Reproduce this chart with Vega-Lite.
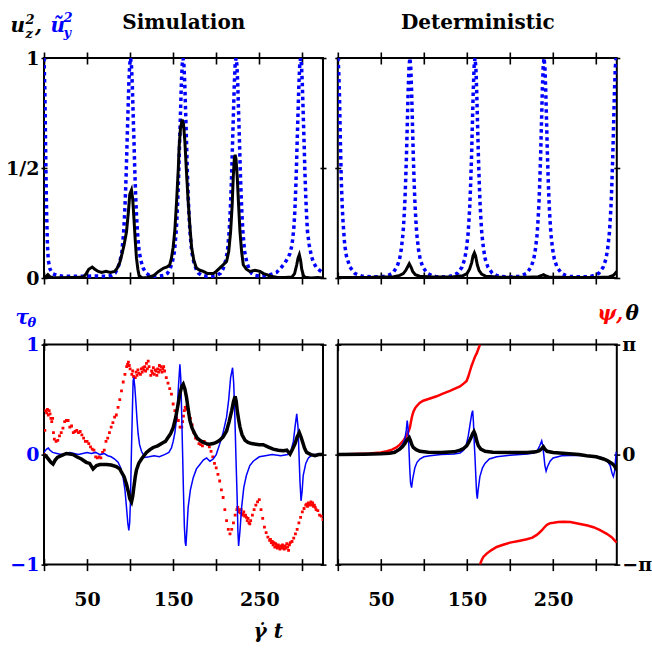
{
"$schema": "https://vega.github.io/schema/vega-lite/v6.json",
"padding": {"left": 4, "top": 10, "right": 5, "bottom": 5},
"config": {
 "view": {"stroke": "#000", "strokeWidth": 2},
 "axis": {"domain": false, "grid": false, "labels": false, "tickColor": "#000", "tickWidth": 1.6, "labelFont": "DejaVu Serif", "labelFontWeight": "bold", "labelFontSize": 19, "labelColor": "#000", "labelFlush": false, "labelOverlap": false, "titleFont": "DejaVu Serif", "titleFontWeight": "bold", "titleFontStyle": "italic", "titleFontSize": 20, "titleColor": "#000", "titleAngle": 0, "titleAlign": "left", "titleBaseline": "alphabetic", "titlePadding": 0},
 "axisX": {"offset": -6, "tickSize": 12, "values": [50,100,150,200,250,300], "labelPadding": 20, "labelBaseline": "top", "labelAlign": "center", "labelExpr": "datum.value % 100 == 50 ? datum.label : ''"},
 "axisY": {"offset": -3, "tickSize": 6, "labelPadding": 2}
},
"datasets": {
 "simUy": [{"t":0,"v":1},{"t":1,"v":0.85},{"t":2,"v":0.55},{"t":3,"v":0.3},{"t":4,"v":0.15},{"t":5,"v":0.08},{"t":7,"v":0.04},{"t":10,"v":0.02},{"t":15,"v":0.012},{"t":22,"v":0.008},{"t":30,"v":0.008},{"t":45,"v":0.008},{"t":60,"v":0.009},
  {"t":72.5,"v":0.008},{"t":78.5,"v":0.012},{"t":82.5,"v":0.022},{"t":85.5,"v":0.042},{"t":88,"v":0.072},{"t":90.5,"v":0.12},{"t":92.5,"v":0.21},{"t":93.5,"v":0.28},{"t":94.5,"v":0.37},{"t":95.5,"v":0.48},{"t":96.5,"v":0.62},{"t":97.5,"v":0.75},{"t":98.5,"v":0.88},{"t":99.5,"v":0.97},{"t":100.5,"v":1},{"t":101.5,"v":0.97},{"t":102.5,"v":0.88},{"t":103.5,"v":0.75},{"t":104.5,"v":0.62},{"t":105.5,"v":0.48},{"t":106.5,"v":0.37},{"t":107.5,"v":0.28},{"t":108.5,"v":0.21},{"t":110.5,"v":0.12},{"t":113,"v":0.072},{"t":115.5,"v":0.042},{"t":118.5,"v":0.022},{"t":122.5,"v":0.012},{"t":128.5,"v":0.008},
  {"t":133.5,"v":0.008},{"t":139.5,"v":0.012},{"t":143.5,"v":0.022},{"t":146.5,"v":0.042},{"t":149,"v":0.072},{"t":151.5,"v":0.12},{"t":153.5,"v":0.21},{"t":154.5,"v":0.28},{"t":155.5,"v":0.37},{"t":156.5,"v":0.48},{"t":157.5,"v":0.62},{"t":158.5,"v":0.75},{"t":159.5,"v":0.88},{"t":160.5,"v":0.97},{"t":161.5,"v":1},{"t":162.5,"v":0.97},{"t":163.5,"v":0.88},{"t":164.5,"v":0.75},{"t":165.5,"v":0.62},{"t":166.5,"v":0.48},{"t":167.5,"v":0.37},{"t":168.5,"v":0.28},{"t":169.5,"v":0.21},{"t":171.5,"v":0.12},{"t":174,"v":0.072},{"t":176.5,"v":0.042},{"t":179.5,"v":0.022},{"t":183.5,"v":0.012},{"t":189.5,"v":0.008},
  {"t":195,"v":0.008},{"t":201,"v":0.012},{"t":205,"v":0.022},{"t":208,"v":0.042},{"t":210.5,"v":0.072},{"t":213,"v":0.12},{"t":215,"v":0.21},{"t":216,"v":0.28},{"t":217,"v":0.37},{"t":218,"v":0.48},{"t":219,"v":0.62},{"t":220,"v":0.75},{"t":221,"v":0.88},{"t":222,"v":0.97},{"t":223,"v":1},{"t":224,"v":0.97},{"t":225,"v":0.88},{"t":226,"v":0.75},{"t":227,"v":0.62},{"t":228,"v":0.48},{"t":229,"v":0.37},{"t":230,"v":0.28},{"t":231,"v":0.21},{"t":233,"v":0.12},{"t":235.5,"v":0.072},{"t":238,"v":0.042},{"t":241,"v":0.022},{"t":245,"v":0.012},{"t":251,"v":0.008},{"t":260,"v":0.012},
  {"t":270,"v":0.025},{"t":276,"v":0.05},{"t":280,"v":0.07},{"t":283,"v":0.09},{"t":285.5,"v":0.11},{"t":288,"v":0.15},{"t":290,"v":0.22},{"t":291,"v":0.28},{"t":292,"v":0.37},{"t":293,"v":0.48},{"t":294,"v":0.62},{"t":295,"v":0.75},{"t":296,"v":0.88},{"t":297,"v":0.97},{"t":298,"v":1},{"t":299,"v":0.97},{"t":300,"v":0.88},{"t":301,"v":0.75},{"t":302,"v":0.62},{"t":303,"v":0.48},{"t":304,"v":0.37},{"t":305,"v":0.28},{"t":306,"v":0.21},{"t":308,"v":0.15},{"t":310.5,"v":0.1},{"t":313,"v":0.07},{"t":316,"v":0.05},{"t":320,"v":0.035},{"t":324,"v":0.025}],
 "simUz": [{"t":0,"v":0},{"t":2,"v":0.005},{"t":4.5,"v":0.015},{"t":7,"v":0.005},{"t":10,"v":0.002},{"t":20,"v":0.001},{"t":30,"v":0.002},{"t":40,"v":0.003},{"t":46,"v":0.005},{"t":49,"v":0.02},{"t":52,"v":0.04},{"t":56,"v":0.05},{"t":59,"v":0.04},{"t":63,"v":0.03},{"t":67,"v":0.025},{"t":72,"v":0.03},{"t":77,"v":0.025},{"t":82,"v":0.03},{"t":85,"v":0.045},{"t":88,"v":0.07},{"t":90,"v":0.1},{"t":93,"v":0.15},{"t":95.8,"v":0.21},{"t":98,"v":0.3},{"t":99.6,"v":0.38},{"t":101.6,"v":0.4},{"t":103,"v":0.36},{"t":104.3,"v":0.28},{"t":106,"v":0.17},{"t":107.4,"v":0.09},{"t":109,"v":0.04},{"t":110.5,"v":0.01},{"t":114,"v":0},{"t":120,"v":0.002},{"t":127,"v":0.01},{"t":133,"v":0.03},{"t":139,"v":0.045},{"t":143,"v":0.05},{"t":146,"v":0.06},{"t":148,"v":0.09},{"t":150,"v":0.14},{"t":152,"v":0.22},{"t":154,"v":0.35},{"t":156,"v":0.5},{"t":157,"v":0.6},{"t":158.5,"v":0.68},{"t":160.5,"v":0.72},{"t":162,"v":0.7},{"t":163.6,"v":0.62},{"t":165.5,"v":0.48},{"t":167.4,"v":0.35},{"t":169.5,"v":0.23},{"t":171.4,"v":0.14},{"t":174,"v":0.08},{"t":177,"v":0.045},{"t":181,"v":0.035},{"t":185,"v":0.03},{"t":190,"v":0.02},{"t":196.5,"v":0.02},{"t":200,"v":0.03},{"t":204,"v":0.045},{"t":208,"v":0.06},{"t":212,"v":0.075},{"t":214.5,"v":0.12},{"t":216.7,"v":0.21},{"t":218.5,"v":0.33},{"t":219.8,"v":0.46},{"t":221,"v":0.54},{"t":222,"v":0.56},{"t":223,"v":0.54},{"t":224.4,"v":0.46},{"t":226,"v":0.33},{"t":227.6,"v":0.21},{"t":229.5,"v":0.12},{"t":231.4,"v":0.06},{"t":235,"v":0.04},{"t":239,"v":0.03},{"t":245,"v":0.035},{"t":250.8,"v":0.03},{"t":255,"v":0.02},{"t":258.6,"v":0.015},{"t":263,"v":0.008},{"t":270,"v":0.003},{"t":280,"v":0.002},{"t":288,"v":0.005},{"t":291,"v":0.02},{"t":293.5,"v":0.06},{"t":295,"v":0.09},{"t":296.5,"v":0.106},{"t":298,"v":0.08},{"t":299.3,"v":0.04},{"t":301,"v":0.015},{"t":303,"v":0.003},{"t":310,"v":0},{"t":318,"v":0.002},{"t":324,"v":0}],
 "detUy": [{"t":0,"v":1},{"t":1,"v":0.95},{"t":2,"v":0.82},{"t":3,"v":0.62},{"t":4,"v":0.45},{"t":5,"v":0.34},{"t":6,"v":0.26},{"t":8,"v":0.15},{"t":10,"v":0.1},{"t":14,"v":0.05},{"t":20,"v":0.02},{"t":28,"v":0.008},{"t":40,"v":0.005},
  {"t":53.7,"v":0.007},{"t":58.7,"v":0.012},{"t":63.7,"v":0.022},{"t":68.7,"v":0.05},{"t":71.7,"v":0.085},{"t":73.7,"v":0.13},{"t":75.7,"v":0.2},{"t":76.7,"v":0.26},{"t":77.7,"v":0.33},{"t":78.7,"v":0.43},{"t":79.7,"v":0.55},{"t":80.7,"v":0.7},{"t":81.7,"v":0.85},{"t":82.7,"v":0.96},{"t":83.7,"v":1},{"t":84.7,"v":0.96},{"t":85.7,"v":0.85},{"t":86.7,"v":0.7},{"t":87.7,"v":0.55},{"t":88.7,"v":0.43},{"t":89.7,"v":0.33},{"t":90.7,"v":0.26},{"t":91.7,"v":0.2},{"t":93.7,"v":0.13},{"t":95.7,"v":0.085},{"t":98.7,"v":0.05},{"t":103.7,"v":0.022},{"t":108.7,"v":0.012},{"t":113.7,"v":0.007},{"t":121.5,"v":0.005},
  {"t":129.3,"v":0.007},{"t":134.3,"v":0.012},{"t":139.3,"v":0.022},{"t":144.3,"v":0.05},{"t":147.3,"v":0.085},{"t":149.3,"v":0.13},{"t":151.3,"v":0.2},{"t":152.3,"v":0.26},{"t":153.3,"v":0.33},{"t":154.3,"v":0.43},{"t":155.3,"v":0.55},{"t":156.3,"v":0.7},{"t":157.3,"v":0.85},{"t":158.3,"v":0.96},{"t":159.3,"v":1},{"t":160.3,"v":0.96},{"t":161.3,"v":0.85},{"t":162.3,"v":0.7},{"t":163.3,"v":0.55},{"t":164.3,"v":0.43},{"t":165.3,"v":0.33},{"t":166.3,"v":0.26},{"t":167.3,"v":0.2},{"t":169.3,"v":0.13},{"t":171.3,"v":0.085},{"t":174.3,"v":0.05},{"t":179.3,"v":0.022},{"t":184.3,"v":0.012},{"t":189.3,"v":0.007},{"t":199.5,"v":0.005},
  {"t":209.5,"v":0.007},{"t":214.5,"v":0.012},{"t":219.5,"v":0.022},{"t":224.5,"v":0.05},{"t":227.5,"v":0.085},{"t":229.5,"v":0.13},{"t":231.5,"v":0.2},{"t":232.5,"v":0.26},{"t":233.5,"v":0.33},{"t":234.5,"v":0.43},{"t":235.5,"v":0.55},{"t":236.5,"v":0.7},{"t":237.5,"v":0.85},{"t":238.5,"v":0.96},{"t":239.5,"v":1},{"t":240.5,"v":0.96},{"t":241.5,"v":0.85},{"t":242.5,"v":0.7},{"t":243.5,"v":0.55},{"t":244.5,"v":0.43},{"t":245.5,"v":0.33},{"t":246.5,"v":0.26},{"t":247.5,"v":0.2},{"t":249.5,"v":0.13},{"t":251.5,"v":0.085},{"t":254.5,"v":0.05},{"t":259.5,"v":0.022},{"t":264.5,"v":0.012},{"t":269.5,"v":0.007},{"t":283.3,"v":0.005},
  {"t":293.3,"v":0.007},{"t":298.3,"v":0.012},{"t":303.3,"v":0.022},{"t":308.3,"v":0.05},{"t":311.3,"v":0.085},{"t":313.3,"v":0.13},{"t":315.3,"v":0.2},{"t":316.3,"v":0.26},{"t":317.3,"v":0.33},{"t":318.3,"v":0.43},{"t":319.3,"v":0.55},{"t":320.3,"v":0.7},{"t":321.3,"v":0.85},{"t":322.3,"v":0.96},{"t":323.3,"v":1},{"t":324,"v":0.99}],
 "detUz": [{"t":0,"v":0.002},{"t":40,"v":0.003},{"t":65,"v":0.006},{"t":72,"v":0.012},{"t":76,"v":0.02},{"t":79,"v":0.035},{"t":81,"v":0.05},{"t":83,"v":0.065},{"t":85,"v":0.05},{"t":87,"v":0.03},{"t":90,"v":0.015},{"t":95,"v":0.008},{"t":110,"v":0.004},{"t":130,"v":0.004},{"t":145,"v":0.01},{"t":150,"v":0.02},{"t":153,"v":0.04},{"t":155.5,"v":0.07},{"t":157,"v":0.1},{"t":158.6,"v":0.114},{"t":160,"v":0.1},{"t":162,"v":0.06},{"t":164,"v":0.035},{"t":167,"v":0.018},{"t":172,"v":0.008},{"t":185,"v":0.004},{"t":220,"v":0.003},{"t":233,"v":0.006},{"t":237,"v":0.012},{"t":239,"v":0.015},{"t":241,"v":0.01},{"t":245,"v":0.005},{"t":270,"v":0.002},{"t":300,"v":0.002},{"t":315,"v":0.005},{"t":320,"v":0.012},{"t":322,"v":0.02},{"t":324,"v":0.03}],
 "simTau": [{"t":0,"v":0.02},{"t":3,"v":0.05},{"t":5,"v":0.06},{"t":7,"v":0.04},{"t":10,"v":0.02},{"t":15,"v":0.01},{"t":20,"v":0},{"t":25,"v":0.01},{"t":30,"v":0.02},{"t":35,"v":0.01},{"t":40,"v":0},{"t":45,"v":0.01},{"t":50,"v":0.02},{"t":55,"v":0.01},{"t":60,"v":0.02},{"t":65,"v":0},{"t":70,"v":0.01},{"t":74,"v":-0.01},{"t":78,"v":-0.02},{"t":82,"v":-0.04},{"t":86,"v":-0.07},{"t":89,"v":-0.12},{"t":91.9,"v":-0.21},{"t":94,"v":-0.32},{"t":95.8,"v":-0.48},{"t":97.3,"v":-0.62},{"t":98.5,"v":-0.69},{"t":99.5,"v":-0.62},{"t":100.4,"v":-0.42},{"t":101.2,"v":-0.1},{"t":102,"v":0.19},{"t":102.8,"v":0.45},{"t":103.5,"v":0.67},{"t":104.3,"v":0.7},{"t":105.4,"v":0.62},{"t":106.6,"v":0.49},{"t":108,"v":0.32},{"t":109.3,"v":0.19},{"t":111,"v":0.09},{"t":113.2,"v":0.03},{"t":117,"v":-0.026},{"t":122,"v":-0.02},{"t":128,"v":-0.01},{"t":134,"v":-0.02},{"t":140,"v":0},{"t":145,"v":0.02},{"t":148,"v":0.06},{"t":150,"v":0.12},{"t":152,"v":0.2},{"t":154,"v":0.33},{"t":156,"v":0.6},{"t":157.8,"v":0.82},{"t":158.8,"v":0.7},{"t":159.8,"v":0.4},{"t":160.9,"v":0.03},{"t":162,"v":-0.35},{"t":163,"v":-0.65},{"t":164,"v":-0.8},{"t":164.8,"v":-0.83},{"t":165.8,"v":-0.7},{"t":167.4,"v":-0.48},{"t":170,"v":-0.32},{"t":173.3,"v":-0.21},{"t":177,"v":-0.13},{"t":181,"v":-0.09},{"t":185,"v":-0.05},{"t":188.8,"v":-0.03},{"t":192.7,"v":-0.06},{"t":196.5,"v":-0.04},{"t":200,"v":0},{"t":204,"v":0.095},{"t":208,"v":0.2},{"t":212,"v":0.34},{"t":214.5,"v":0.5},{"t":216.7,"v":0.7},{"t":219,"v":0.79},{"t":220.3,"v":0.65},{"t":221.7,"v":0.33},{"t":223,"v":-0.05},{"t":224.4,"v":-0.42},{"t":225.2,"v":-0.7},{"t":226,"v":-0.83},{"t":227.5,"v":-0.7},{"t":229.5,"v":-0.48},{"t":232,"v":-0.3},{"t":235,"v":-0.19},{"t":239,"v":-0.1},{"t":243,"v":-0.06},{"t":250,"v":-0.02},{"t":257,"v":-0.01},{"t":265,"v":0},{"t":275,"v":-0.01},{"t":283,"v":0},{"t":287,"v":0.04},{"t":289.6,"v":0.12},{"t":291.5,"v":0.25},{"t":293.5,"v":0.37},{"t":295,"v":0.25},{"t":296,"v":0.03},{"t":297.3,"v":-0.25},{"t":298.5,"v":-0.42},{"t":299.8,"v":-0.33},{"t":301,"v":-0.19},{"t":304,"v":-0.08},{"t":307,"v":-0.03},{"t":312,"v":0},{"t":318,"v":0},{"t":324,"v":0}],
 "simTheta": [{"t":0,"v":0},{"t":3,"v":-0.02},{"t":6,"v":-0.05},{"t":8,"v":-0.07},{"t":10.5,"v":-0.086},{"t":13,"v":-0.05},{"t":15.6,"v":-0.025},{"t":20,"v":-0.01},{"t":26,"v":0.01},{"t":30,"v":0.005},{"t":33.7,"v":0},{"t":38,"v":-0.02},{"t":43.4,"v":-0.04},{"t":49,"v":-0.07},{"t":53,"v":-0.08},{"t":57,"v":-0.13},{"t":61,"v":-0.1},{"t":65,"v":-0.09},{"t":72.5,"v":-0.09},{"t":78,"v":-0.095},{"t":84,"v":-0.11},{"t":88,"v":-0.13},{"t":90,"v":-0.16},{"t":93,"v":-0.2},{"t":95.8,"v":-0.27},{"t":98,"v":-0.34},{"t":99.6,"v":-0.4},{"t":101.6,"v":-0.43},{"t":103,"v":-0.38},{"t":104.3,"v":-0.3},{"t":106,"v":-0.2},{"t":107.4,"v":-0.14},{"t":110,"v":-0.08},{"t":113.2,"v":-0.04},{"t":116,"v":-0.01},{"t":119,"v":0.02},{"t":123,"v":0.045},{"t":126.8,"v":0.065},{"t":132,"v":0.08},{"t":138.5,"v":0.11},{"t":141,"v":0.12},{"t":144,"v":0.155},{"t":147,"v":0.19},{"t":150,"v":0.245},{"t":153,"v":0.34},{"t":155.8,"v":0.46},{"t":158,"v":0.56},{"t":160,"v":0.62},{"t":161.7,"v":0.64},{"t":163.5,"v":0.6},{"t":165.5,"v":0.52},{"t":167.5,"v":0.41},{"t":169.4,"v":0.31},{"t":172,"v":0.24},{"t":175,"v":0.19},{"t":178,"v":0.15},{"t":181,"v":0.13},{"t":185,"v":0.11},{"t":188.8,"v":0.1},{"t":192,"v":0.095},{"t":196.5,"v":0.1},{"t":200,"v":0.11},{"t":204,"v":0.13},{"t":208,"v":0.16},{"t":212,"v":0.215},{"t":215,"v":0.3},{"t":218,"v":0.4},{"t":220,"v":0.48},{"t":222,"v":0.53},{"t":223.3,"v":0.48},{"t":224.4,"v":0.4},{"t":226,"v":0.32},{"t":227.6,"v":0.25},{"t":230,"v":0.18},{"t":233.5,"v":0.13},{"t":237,"v":0.11},{"t":241,"v":0.1},{"t":246,"v":0.095},{"t":250,"v":0.09},{"t":254.6,"v":0.09},{"t":260,"v":0.07},{"t":266.2,"v":0.05},{"t":272,"v":0.04},{"t":278,"v":0.035},{"t":282,"v":0.04},{"t":285.7,"v":0.005},{"t":288,"v":0.04},{"t":291.6,"v":0.1},{"t":294,"v":0.16},{"t":296.5,"v":0.2},{"t":298.5,"v":0.16},{"t":300.5,"v":0.11},{"t":302.5,"v":0.06},{"t":305,"v":0.02},{"t":310,"v":0},{"t":314.8,"v":-0.01},{"t":319,"v":0},{"t":324,"v":0}],
 "simPsi": [{"t":0,"v":0},{"t":1,"v":0.22},{"t":2,"v":0.4},{"t":3,"v":0.38},{"t":4,"v":0.41},{"t":5,"v":0.36},{"t":6,"v":0.4},{"t":7,"v":0.37},{"t":8,"v":0.33},{"t":9,"v":0.3},{"t":10,"v":0.33},{"t":11,"v":0.2},{"t":12,"v":0.14},{"t":14,"v":0.12},{"t":16,"v":0.13},{"t":18,"v":0.17},{"t":20,"v":0.2},{"t":22,"v":0.24},{"t":24,"v":0.3},{"t":26,"v":0.31},{"t":28,"v":0.31},{"t":30,"v":0.25},{"t":32,"v":0.26},{"t":34,"v":0.2},{"t":36,"v":0.21},{"t":38,"v":0.22},{"t":40,"v":0.2},{"t":42,"v":0.21},{"t":44,"v":0.18},{"t":46,"v":0.15},{"t":48,"v":0.12},{"t":50,"v":0.12},{"t":52,"v":0.1},{"t":54,"v":0.07},{"t":56,"v":0.05},{"t":58,"v":0.04},{"t":60,"v":-0.02},{"t":62,"v":-0.03},{"t":64,"v":-0.02},{"t":66,"v":-0.03},{"t":68,"v":0.02},{"t":70,"v":0.04},{"t":72,"v":0.12},{"t":74,"v":0.15},{"t":76,"v":0.2},{"t":78,"v":0.25},{"t":80,"v":0.29},{"t":82,"v":0.34},{"t":84,"v":0.36},{"t":86,"v":0.43},{"t":88,"v":0.5},{"t":90,"v":0.58},{"t":92,"v":0.66},{"t":94,"v":0.73},{"t":96,"v":0.8},{"t":97,"v":0.82},{"t":98,"v":0.84},{"t":99,"v":0.81},{"t":100,"v":0.78},{"t":102,"v":0.73},{"t":103,"v":0.76},{"t":104,"v":0.71},{"t":106,"v":0.7},{"t":107,"v":0.75},{"t":108,"v":0.72},{"t":109,"v":0.77},{"t":110,"v":0.74},{"t":112,"v":0.73},{"t":113,"v":0.78},{"t":114,"v":0.75},{"t":115,"v":0.79},{"t":116,"v":0.77},{"t":117,"v":0.8},{"t":118,"v":0.76},{"t":119,"v":0.83},{"t":120,"v":0.78},{"t":121,"v":0.85},{"t":122,"v":0.8},{"t":124,"v":0.72},{"t":125,"v":0.76},{"t":126,"v":0.74},{"t":127,"v":0.79},{"t":128,"v":0.73},{"t":129,"v":0.77},{"t":130,"v":0.76},{"t":131,"v":0.72},{"t":132,"v":0.78},{"t":133,"v":0.75},{"t":134,"v":0.81},{"t":135,"v":0.77},{"t":136,"v":0.8},{"t":137,"v":0.75},{"t":138,"v":0.78},{"t":139,"v":0.8},{"t":140,"v":0.76},{"t":142,"v":0.7},{"t":144,"v":0.65},{"t":146,"v":0.6},{"t":148,"v":0.55},{"t":150,"v":0.46},{"t":152,"v":0.4},{"t":154,"v":0.33},{"t":156,"v":0.31},{"t":158,"v":0.25},{"t":160,"v":0.25},{"t":161,"v":0.3},{"t":162,"v":0.35},{"t":163,"v":0.4},{"t":164,"v":0.43},{"t":165,"v":0.42},{"t":166,"v":0.44},{"t":167,"v":0.41},{"t":168,"v":0.38},{"t":170,"v":0.33},{"t":172,"v":0.27},{"t":174,"v":0.2},{"t":176,"v":0.15},{"t":178,"v":0.14},{"t":180,"v":0.1},{"t":182,"v":0.09},{"t":184,"v":0.08},{"t":186,"v":0.12},{"t":188,"v":0.1},{"t":190,"v":0.09},{"t":192,"v":0.07},{"t":194,"v":0.03},{"t":196,"v":-0.02},{"t":198,"v":-0.08},{"t":200,"v":-0.12},{"t":202,"v":-0.18},{"t":204,"v":-0.24},{"t":206,"v":-0.32},{"t":208,"v":-0.39},{"t":210,"v":-0.5},{"t":212,"v":-0.6},{"t":214,"v":-0.68},{"t":216,"v":-0.72},{"t":218,"v":-0.68},{"t":220,"v":-0.62},{"t":222,"v":-0.55},{"t":224,"v":-0.5},{"t":225,"v":-0.48},{"t":226,"v":-0.52},{"t":227,"v":-0.5},{"t":228,"v":-0.53},{"t":229,"v":-0.5},{"t":230,"v":-0.55},{"t":231,"v":-0.54},{"t":232,"v":-0.52},{"t":233,"v":-0.56},{"t":234,"v":-0.55},{"t":235,"v":-0.57},{"t":236,"v":-0.6},{"t":237,"v":-0.58},{"t":238,"v":-0.62},{"t":239,"v":-0.63},{"t":240,"v":-0.6},{"t":242,"v":-0.55},{"t":244,"v":-0.5},{"t":246,"v":-0.46},{"t":248,"v":-0.43},{"t":250,"v":-0.41},{"t":252,"v":-0.5},{"t":254,"v":-0.58},{"t":256,"v":-0.66},{"t":258,"v":-0.71},{"t":260,"v":-0.75},{"t":262,"v":-0.78},{"t":263,"v":-0.77},{"t":264,"v":-0.8},{"t":265,"v":-0.79},{"t":266,"v":-0.82},{"t":267,"v":-0.8},{"t":268,"v":-0.84},{"t":269,"v":-0.81},{"t":270,"v":-0.83},{"t":271,"v":-0.85},{"t":272,"v":-0.82},{"t":273,"v":-0.84},{"t":274,"v":-0.86},{"t":275,"v":-0.83},{"t":276,"v":-0.85},{"t":277,"v":-0.82},{"t":278,"v":-0.84},{"t":279,"v":-0.86},{"t":280,"v":-0.83},{"t":281,"v":-0.85},{"t":282,"v":-0.81},{"t":283,"v":-0.84},{"t":284,"v":-0.87},{"t":285,"v":-0.82},{"t":286,"v":-0.8},{"t":288,"v":-0.79},{"t":290,"v":-0.76},{"t":292,"v":-0.72},{"t":294,"v":-0.68},{"t":296,"v":-0.62},{"t":298,"v":-0.57},{"t":300,"v":-0.52},{"t":302,"v":-0.49},{"t":304,"v":-0.46},{"t":305,"v":-0.45},{"t":306,"v":-0.47},{"t":307,"v":-0.44},{"t":308,"v":-0.46},{"t":309,"v":-0.45},{"t":310,"v":-0.43},{"t":311,"v":-0.46},{"t":312,"v":-0.44},{"t":313,"v":-0.47},{"t":314,"v":-0.46},{"t":315,"v":-0.48},{"t":316,"v":-0.5},{"t":318,"v":-0.51},{"t":320,"v":-0.55},{"t":322,"v":-0.56},{"t":324,"v":-0.59}],
 "detTau": [{"t":0,"v":0},{"t":30,"v":0.002},{"t":50,"v":0.008},{"t":60,"v":0.015},{"t":66,"v":0.03},{"t":70,"v":0.045},{"t":72,"v":0.06},{"t":75,"v":0.09},{"t":77.9,"v":0.14},{"t":79.5,"v":0.22},{"t":80.6,"v":0.31},{"t":81.5,"v":0.25},{"t":82.5,"v":0.08},{"t":83.5,"v":-0.12},{"t":84.5,"v":-0.26},{"t":85.7,"v":-0.3},{"t":87,"v":-0.22},{"t":89.5,"v":-0.12},{"t":92,"v":-0.07},{"t":95.3,"v":-0.04},{"t":100,"v":-0.02},{"t":107,"v":-0.01},{"t":120,"v":0},{"t":135,"v":0.005},{"t":142,"v":0.015},{"t":146,"v":0.04},{"t":149,"v":0.08},{"t":151.5,"v":0.17},{"t":153.5,"v":0.27},{"t":155.5,"v":0.37},{"t":156.6,"v":0.4},{"t":157.5,"v":0.3},{"t":158.5,"v":0.1},{"t":159.3,"v":-0.02},{"t":160.3,"v":-0.2},{"t":161.2,"v":-0.35},{"t":162,"v":-0.4},{"t":163,"v":-0.32},{"t":165,"v":-0.2},{"t":168,"v":-0.12},{"t":170.9,"v":-0.08},{"t":176,"v":-0.04},{"t":184.5,"v":-0.02},{"t":200,"v":-0.005},{"t":220,"v":0.005},{"t":228,"v":0.015},{"t":232,"v":0.04},{"t":234.5,"v":0.08},{"t":236.8,"v":0.125},{"t":238,"v":0.08},{"t":239.2,"v":0},{"t":240.5,"v":-0.1},{"t":241.9,"v":-0.15},{"t":243.5,"v":-0.11},{"t":246.5,"v":-0.06},{"t":250,"v":-0.03},{"t":260,"v":-0.01},{"t":280,"v":-0.005},{"t":300,"v":-0.015},{"t":308,"v":-0.03},{"t":313,"v":-0.06},{"t":316.3,"v":-0.1},{"t":318.5,"v":-0.17},{"t":320,"v":-0.2},{"t":321.5,"v":-0.15},{"t":322.5,"v":-0.05},{"t":323.3,"v":0.02},{"t":324,"v":0.02}],
 "detTheta": [{"t":0,"v":0},{"t":30,"v":0.003},{"t":50,"v":0.007},{"t":60,"v":0.012},{"t":66,"v":0.02},{"t":72,"v":0.05},{"t":75,"v":0.07},{"t":77.9,"v":0.1},{"t":80,"v":0.13},{"t":81.5,"v":0.145},{"t":82.9,"v":0.155},{"t":84.3,"v":0.13},{"t":86,"v":0.09},{"t":87.6,"v":0.065},{"t":91,"v":0.045},{"t":95.3,"v":0.03},{"t":105,"v":0.022},{"t":120,"v":0.02},{"t":135,"v":0.025},{"t":142,"v":0.04},{"t":146,"v":0.055},{"t":149.6,"v":0.08},{"t":152,"v":0.11},{"t":154.5,"v":0.15},{"t":156.5,"v":0.19},{"t":158.1,"v":0.21},{"t":159.7,"v":0.18},{"t":161.5,"v":0.12},{"t":163.2,"v":0.08},{"t":166,"v":0.05},{"t":171,"v":0.03},{"t":180,"v":0.022},{"t":200,"v":0.02},{"t":220,"v":0.02},{"t":230,"v":0.025},{"t":234,"v":0.035},{"t":237,"v":0.055},{"t":238.8,"v":0.07},{"t":240.5,"v":0.05},{"t":243,"v":0.03},{"t":250,"v":0.02},{"t":265,"v":0.01},{"t":280,"v":0},{"t":289,"v":-0.01},{"t":300,"v":-0.02},{"t":308.5,"v":-0.04},{"t":313,"v":-0.055},{"t":318.3,"v":-0.08},{"t":321,"v":-0.1},{"t":323.3,"v":-0.13},{"t":324,"v":-0.14}],
 "detPsi": [{"s":1,"t":0,"v":0},{"s":1,"t":20,"v":0.005},{"s":1,"t":37,"v":0.01},{"s":1,"t":50,"v":0.02},{"s":1,"t":57,"v":0.03},{"s":1,"t":63,"v":0.045},{"s":1,"t":68,"v":0.065},{"s":1,"t":72,"v":0.09},{"s":1,"t":76,"v":0.125},{"s":1,"t":78.5,"v":0.155},{"s":1,"t":80.6,"v":0.186},{"s":1,"t":82.3,"v":0.215},{"s":1,"t":83.7,"v":0.245},{"s":1,"t":85,"v":0.3},{"s":1,"t":86,"v":0.34},{"s":1,"t":87.2,"v":0.375},{"s":1,"t":88.4,"v":0.4},{"s":1,"t":90,"v":0.425},{"s":1,"t":91.5,"v":0.44},{"s":1,"t":95,"v":0.47},{"s":1,"t":99.2,"v":0.49},{"s":1,"t":107,"v":0.51},{"s":1,"t":114.8,"v":0.53},{"s":1,"t":122,"v":0.555},{"s":1,"t":130.2,"v":0.58},{"s":1,"t":136,"v":0.6},{"s":1,"t":141.9,"v":0.62},{"s":1,"t":146,"v":0.645},{"s":1,"t":149.6,"v":0.67},{"s":1,"t":151.5,"v":0.71},{"s":1,"t":153.5,"v":0.76},{"s":1,"t":155.5,"v":0.81},{"s":1,"t":157.4,"v":0.85},{"s":1,"t":159.3,"v":0.89},{"s":1,"t":161.3,"v":0.92},{"s":1,"t":163.2,"v":0.96},{"s":1,"t":165.1,"v":1},
  {"s":2,"t":165.1,"v":-1},{"s":2,"t":167,"v":-0.96},{"s":2,"t":169,"v":-0.93},{"s":2,"t":172.9,"v":-0.9},{"s":2,"t":178,"v":-0.87},{"s":2,"t":184.5,"v":-0.84},{"s":2,"t":192,"v":-0.82},{"s":2,"t":200,"v":-0.8},{"s":2,"t":210,"v":-0.785},{"s":2,"t":219.4,"v":-0.77},{"s":2,"t":226,"v":-0.755},{"s":2,"t":231,"v":-0.73},{"s":2,"t":234,"v":-0.71},{"s":2,"t":236.8,"v":-0.69},{"s":2,"t":239.5,"v":-0.665},{"s":2,"t":242.6,"v":-0.64},{"s":2,"t":246,"v":-0.625},{"s":2,"t":250.4,"v":-0.62},{"s":2,"t":256,"v":-0.612},{"s":2,"t":262,"v":-0.61},{"s":2,"t":270,"v":-0.612},{"s":2,"t":281.4,"v":-0.63},{"s":2,"t":290,"v":-0.645},{"s":2,"t":296.9,"v":-0.66},{"s":2,"t":304,"v":-0.685},{"s":2,"t":312.4,"v":-0.72},{"s":2,"t":318,"v":-0.75},{"s":2,"t":324,"v":-0.8}]
},
"columns": 2,
"spacing": {"row": 66.6, "column": 14.8},
"bounds": "flush",
"concat": [
 {
  "width": 279, "height": 220,
  "layer": [
   {"data": {"name": "simUy"}, "mark": {"type": "line", "color": "#0000ff", "strokeWidth": 3.5, "strokeDash": [3.5, 3.5], "strokeCap": "butt", "clip": true},
    "encoding": {
     "x": {"field": "t", "type": "quantitative", "scale": {"domain": [0, 324], "nice": false}, "axis": {"orient": "bottom", "title": ["2", "y"], "titleColor": "#0000ff", "titleFontSize": 13, "titleLineHeight": 15, "titleX": 19, "titleY": -250.7}},
     "y": {"field": "v", "type": "quantitative", "scale": {"domain": [0, 1], "nice": false}, "axis": {"orient": "left", "values": [0, 0.5, 1], "format": "~g", "labels": true, "labelExpr": "datum.value == 0.5 ? '1/2' : datum.label", "title": "u\u2002,", "titleX": -37, "titleY": -26.7}}
    }},
   {"data": {"name": "simUz"}, "mark": {"type": "line", "color": "#000", "strokeWidth": 3, "clip": true},
    "encoding": {
     "x": {"field": "t", "type": "quantitative", "scale": {"domain": [0, 324], "nice": false}, "axis": {"orient": "top", "title": ["2", "z"], "titleFontSize": 13, "titleLineHeight": 14, "titleX": -19, "titleY": -40.7}},
     "y": {"field": "v", "type": "quantitative", "scale": {"domain": [0, 1], "nice": false}, "axis": {"orient": "right", "values": [0, 0.5, 1], "title": "\u0169", "titleColor": "#0000ff", "titleX": -270, "titleY": -26.7}}
    }}
  ],
  "resolve": {"axis": {"x": "independent", "y": "independent"}}
 },
 {
  "width": 279, "height": 220,
  "layer": [
   {"data": {"name": "detUy"}, "mark": {"type": "line", "color": "#0000ff", "strokeWidth": 3.5, "strokeDash": [3.5, 3.5], "strokeCap": "butt", "clip": true},
    "encoding": {
     "x": {"field": "t", "type": "quantitative", "scale": {"domain": [0, 324], "nice": false}, "axis": {"orient": "bottom", "title": null}},
     "y": {"field": "v", "type": "quantitative", "scale": {"domain": [0, 1], "nice": false}, "axis": {"orient": "left", "values": [0, 0.5, 1], "title": "Simulation", "titleFontStyle": "normal", "titleAlign": "center", "titleX": -157.5, "titleY": -29.7}}
    }},
   {"data": {"name": "detUz"}, "mark": {"type": "line", "color": "#000", "strokeWidth": 3, "clip": true},
    "encoding": {
     "x": {"field": "t", "type": "quantitative", "scale": {"domain": [0, 324], "nice": false}, "axis": {"orient": "top", "title": "Deterministic", "titleFontStyle": "normal", "titleAlign": "center", "titleX": 139.5, "titleY": -35.7}},
     "y": {"field": "v", "type": "quantitative", "scale": {"domain": [0, 1], "nice": false}, "axis": {"orient": "right", "values": [0, 0.5, 1], "title": null}}
    }}
  ],
  "resolve": {"axis": {"x": "independent", "y": "independent"}}
 },
 {
  "width": 279, "height": 220,
  "layer": [
   {"data": {"name": "simPsi"}, "mark": {"type": "point", "shape": "square", "filled": true, "size": 8, "color": "#ff0000", "opacity": 1, "clip": true},
    "encoding": {
     "x": {"field": "t", "type": "quantitative", "scale": {"domain": [0, 324], "nice": false}, "axis": null},
     "y": {"field": "v", "type": "quantitative", "scale": {"domain": [-1, 1], "nice": false}, "axis": null}
    }},
   {"data": {"name": "simTau"}, "mark": {"type": "line", "color": "#0000ff", "strokeWidth": 1.5, "clip": true},
    "encoding": {
     "x": {"field": "t", "type": "quantitative", "scale": {"domain": [0, 324], "nice": false}, "axis": {"orient": "bottom", "labels": true, "title": "\u03b3\u0307 t", "titleX": 209, "titleY": 78.7}},
     "y": {"field": "v", "type": "quantitative", "scale": {"domain": [-1, 1], "nice": false}, "axis": {"orient": "left", "values": [-1, 0, 1], "format": "~g", "labels": true, "labelColor": "#0000ff", "title": "\u03c4", "titleColor": "#0000ff", "titleX": -32, "titleY": -21.3}}
    }},
   {"data": {"name": "simTheta"}, "mark": {"type": "line", "color": "#000", "strokeWidth": 3.5, "clip": true},
    "encoding": {
     "x": {"field": "t", "type": "quantitative", "scale": {"domain": [0, 324], "nice": false}, "axis": {"orient": "top", "title": "\u03b8", "titleColor": "#0000ff", "titleFontSize": 13, "titleX": -17, "titleY": -24.3}},
     "y": {"field": "v", "type": "quantitative", "scale": {"domain": [-1, 1], "nice": false}, "axis": {"orient": "right", "values": [-1, 0, 1], "title": null}}
    }}
  ],
  "resolve": {"axis": {"x": "independent", "y": "independent"}}
 },
 {
  "width": 279, "height": 220,
  "layer": [
   {"data": {"name": "detPsi"}, "mark": {"type": "line", "color": "#ff0000", "strokeWidth": 2.5, "clip": true},
    "encoding": {
     "x": {"field": "t", "type": "quantitative", "scale": {"domain": [0, 324], "nice": false}, "axis": null},
     "y": {"field": "v", "type": "quantitative", "scale": {"domain": [-1, 1], "nice": false}, "axis": null},
     "detail": {"field": "s", "type": "nominal"}
    }},
   {"data": {"name": "detTau"}, "mark": {"type": "line", "color": "#0000ff", "strokeWidth": 1.5, "clip": true},
    "encoding": {
     "x": {"field": "t", "type": "quantitative", "scale": {"domain": [0, 324], "nice": false}, "axis": {"orient": "bottom", "labels": true, "title": null}},
     "y": {"field": "v", "type": "quantitative", "scale": {"domain": [-1, 1], "nice": false}, "axis": {"orient": "left", "values": [-1, 0, 1], "title": null}}
    }},
   {"data": {"name": "detTheta"}, "mark": {"type": "line", "color": "#000", "strokeWidth": 3.5, "clip": true},
    "encoding": {
     "x": {"field": "t", "type": "quantitative", "scale": {"domain": [0, 324], "nice": false}, "axis": {"orient": "top", "title": "\u03c8,", "titleColor": "#ff0000", "titleX": 259.2, "titleY": -31.3}},
     "y": {"field": "v", "type": "quantitative", "scale": {"domain": [-1, 1], "nice": false}, "axis": {"orient": "right", "values": [-1, 0, 1], "labels": true, "labelExpr": "datum.value == 1 ? '\u03c0' : datum.value == -1 ? '\u2212\u03c0' : '0'", "title": "\u03b8", "titleX": 11.2, "titleY": -25.3}}
    }}
  ],
  "resolve": {"axis": {"x": "independent", "y": "independent"}}
 }
]
}
